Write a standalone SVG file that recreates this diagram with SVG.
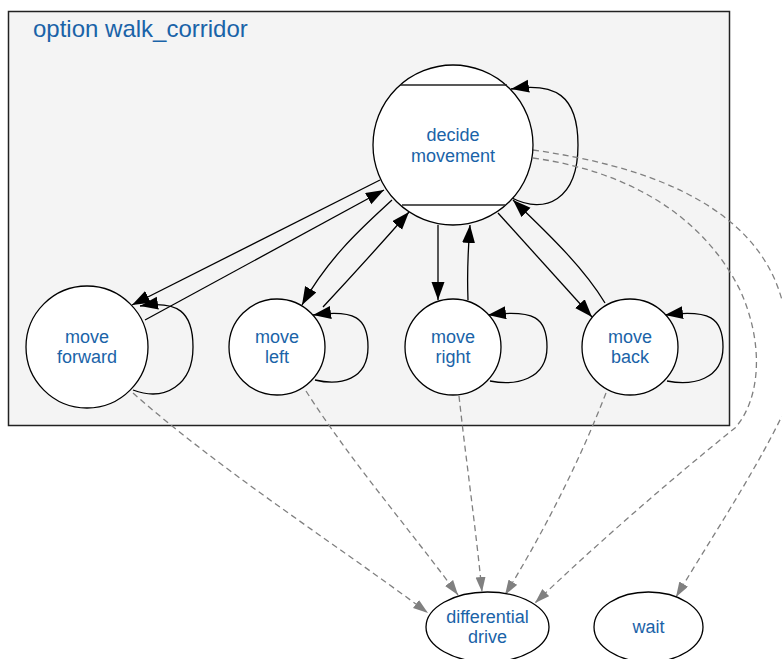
<svg xmlns="http://www.w3.org/2000/svg" width="782" height="659" viewBox="0 0 782 659">
<defs>
<style>
.node{fill:#fff;stroke:#000;stroke-width:1.3}
.lbl{font-family:"Liberation Sans",Arial,sans-serif;font-size:18px;fill:#1a63a8;text-anchor:middle}
.e{fill:none;stroke:#000;stroke-width:1.3;marker-end:url(#ah)}
.d{fill:none;stroke:#808080;stroke-width:1.3;stroke-dasharray:6,4;marker-end:url(#gh)}
</style>
<marker id="ah" markerUnits="userSpaceOnUse" markerWidth="20" markerHeight="14" refX="18" refY="6.5" orient="auto"><path d="M0,0 L18,6.5 L0,13 z" fill="#000"/></marker>
<marker id="gh" markerUnits="userSpaceOnUse" markerWidth="16" markerHeight="11" refX="15" refY="5" orient="auto"><path d="M0,0 L15,5 L0,10 z" fill="#808080"/></marker>
</defs>
<rect width="782" height="659" fill="#fff"/>
<g id="cluster">
<rect x="8.5" y="11.5" width="721" height="414" fill="#f4f4f4" stroke="#222" stroke-width="1.5"/>
<text x="33" y="37" font-family="'Liberation Sans',Arial,sans-serif" font-size="24" fill="#1a63a8">option walk_corridor</text>
</g>
<g id="connectors">
<path class="e" d="M512,198 C545,215 578,200 578,145 C578,95 555,82 511,89"/>
<path class="e" d="M133,390 C165,402 193,385 193,347 C193,312 178,300 140,306"/>
<path class="e" d="M315,380 C340,386 368,380 368,347 C368,318 355,309 313,315"/>
<path class="e" d="M490,381 C515,386 547,380 547,347 C547,318 535,309 488,315"/>
<path class="e" d="M667,381 C692,386 723,380 723,347 C723,318 710,309 665,315"/>
<path class="e" d="M380,180 L132,305"/>
<path class="e" d="M145,320 L384,190"/>
<path class="e" d="M392,200 C365,225 330,255 302,305"/>
<path class="e" d="M323,307 C350,278 380,245 409,212"/>
<path class="e" d="M438,225 L438,300"/>
<path class="e" d="M468,300 C467,275 468,250 470,225"/>
<path class="e" d="M498,213 L592,317"/>
<path class="e" d="M605,303 C585,270 555,240 513,200"/>
<path class="d" d="M133,393 C220,470 330,540 428,613"/>
<path class="d" d="M306,391 C350,460 410,530 458,595"/>
<path class="d" d="M459,396 C466,460 476,530 482,592"/>
<path class="d" d="M606,393 C580,460 545,530 505,595"/>
<path class="d" d="M533,158 C620,170 700,210 740,290 C765,345 760,400 735,428 C670,480 590,550 535,603"/>
<path class="d" d="M533,150 C640,165 740,200 775,280 C800,340 790,410 780,420 C750,480 710,540 676,597"/>
</g>
<g id="decide">
<circle class="node" cx="453" cy="145" r="80"/>
<line x1="400" y1="85" x2="507" y2="85" stroke="#222" stroke-width="1.3"/>
<line x1="402" y1="205" x2="505" y2="205" stroke="#222" stroke-width="1.3"/>
<text class="lbl" x="453" y="141">decide</text>
<text class="lbl" x="453" y="162">movement</text>
</g>
<g id="forward">
<circle class="node" cx="87" cy="347" r="61"/>
<text class="lbl" x="87" y="343">move</text>
<text class="lbl" x="87" y="363">forward</text>
</g>
<g id="left">
<circle class="node" cx="277" cy="347" r="48"/>
<text class="lbl" x="277" y="343">move</text>
<text class="lbl" x="277" y="363">left</text>
</g>
<g id="right">
<circle class="node" cx="453" cy="347" r="48"/>
<text class="lbl" x="453" y="343">move</text>
<text class="lbl" x="453" y="363">right</text>
</g>
<g id="back">
<circle class="node" cx="630" cy="347" r="48"/>
<text class="lbl" x="630" y="343">move</text>
<text class="lbl" x="630" y="363">back</text>
</g>
<g id="diff">
<ellipse class="node" cx="487.5" cy="627" rx="61.5" ry="35"/>
<text class="lbl" x="487.5" y="623">differential</text>
<text class="lbl" x="487.5" y="643">drive</text>
</g>
<g id="wait">
<ellipse class="node" cx="648.5" cy="627" rx="54.5" ry="35"/>
<text class="lbl" x="648.5" y="633">wait</text>
</g>
</svg>
